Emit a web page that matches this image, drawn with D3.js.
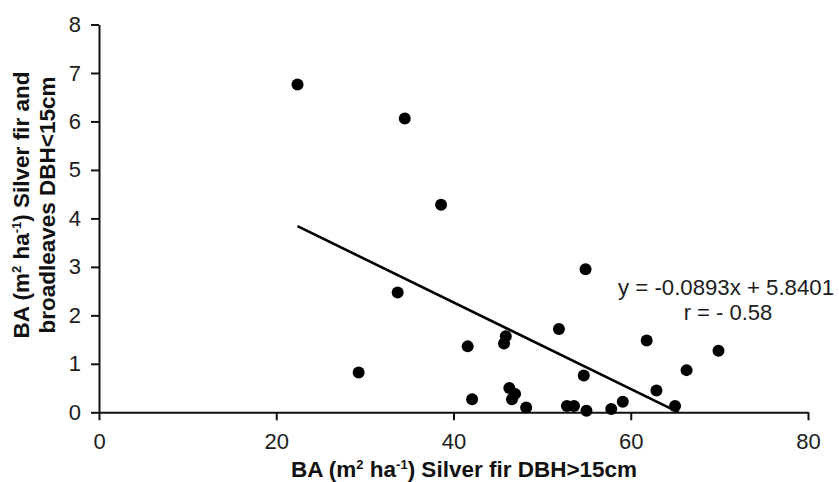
<!DOCTYPE html>
<html>
<head>
<meta charset="utf-8">
<script src="https://cdn.jsdelivr.net/npm/d3@7"></script>
<style>
  body { margin: 0; background: #fff; }
  text { font-family: "Liberation Sans", Arial, sans-serif; }
</style>
</head>
<body>
<div id="chart"></div>
<script>
// BA of silver fir DBH>15cm (x) vs BA of regeneration DBH<15cm (y)
var baLarge = [22.4, 34.5, 38.6, 33.7, 29.3, 54.9, 41.6, 45.9, 45.7, 51.9, 61.8, 69.9, 66.3,
               54.7, 62.9, 42.1, 46.3, 46.95, 46.6, 48.2, 52.8, 53.6, 55.0, 57.8, 59.1, 65.0];
var baSmall = [6.76, 6.06, 4.28, 2.47, 0.82, 2.95, 1.36, 1.57, 1.42, 1.72, 1.48, 1.27, 0.87,
               0.76, 0.45, 0.27, 0.50, 0.38, 0.27, 0.10, 0.13, 0.13, 0.03, 0.07, 0.22, 0.13];

var xTicks = [0, 20, 40, 60, 80];
var yTicks = [0, 1, 2, 3, 4, 5, 6, 7, 8];

// fitted line from the picture
var slope = -0.0893;
var intercept = 5.8401;
var eqLabel = "y = -0.0893x + 5.8401";
var rLabel = "r = - 0.58";

var width = 839;
var height = 482;

var margin = {
  top: 24.5,
  right: 31,
  bottom: 69.7,
  left: 99
};

var chartWidth = width - margin.left - margin.right;
var chartHeight = height - margin.top - margin.bottom;

var svg = d3.select("#chart")
    .append("svg")
    .attr("width", width)
    .attr("height", height);

var chartGroup = svg.append("g")
    .attr("transform", `translate(${margin.left}, ${margin.top})`);

var xScale = d3.scaleLinear()
    .domain([0, 80])
    .range([0, chartWidth]);

var yScale = d3.scaleLinear()
    .domain([0, 8])
    .range([chartHeight, 0]);

var bottomAxis = d3.axisBottom(xScale)
    .tickValues(xTicks)
    .tickSizeInner(8)
    .tickSizeOuter(0)
    .tickPadding(13);

var leftAxis = d3.axisLeft(yScale)
    .tickValues(yTicks)
    .tickSizeInner(8)
    .tickSizeOuter(0)
    .tickPadding(10);

var xAxis = chartGroup.append("g")
    .attr("transform", `translate(0, ${chartHeight})`)
    .call(bottomAxis);

var yAxis = chartGroup.append("g")
    .call(leftAxis);

[xAxis, yAxis].forEach(function(ax) {
    ax.select(".domain").attr("stroke", "#111").attr("stroke-width", 2);
    ax.selectAll(".tick line").attr("stroke", "#111").attr("stroke-width", 2);
    ax.selectAll(".tick text")
        .attr("fill", "#1c1c1c")
        .style("font-size", "22px")
        .style("font-family", '"Liberation Sans", Arial, sans-serif');
});

// regression line, from first x to where it meets y = 0
var xStart = d3.min(baLarge);
var xEnd = -intercept / slope;

chartGroup.append("line")
    .attr("x1", xScale(xStart))
    .attr("y1", yScale(slope * xStart + intercept))
    .attr("x2", xScale(xEnd))
    .attr("y2", yScale(slope * xEnd + intercept))
    .attr("stroke", "#000")
    .attr("stroke-width", 2.6);

var points = baLarge.map(function(d, i) { return { x: d, y: baSmall[i] }; });

chartGroup.selectAll("circle")
    .data(points)
    .enter()
    .append("circle")
    .attr("cx", d => xScale(d.x))
    .attr("cy", d => yScale(d.y))
    .attr("r", 6)
    .attr("fill", "#000");

// equation label
var eq = svg.append("g")
    .attr("fill", "#1c1c1c")
    .style("font-size", "22px")
    .attr("text-anchor", "middle");

eq.append("text")
    .attr("x", 726)
    .attr("y", 295)
    .attr("textLength", 216)
    .attr("lengthAdjust", "spacingAndGlyphs")
    .text(eqLabel);

eq.append("text")
    .attr("x", 728)
    .attr("y", 320)
    .text(rLabel);

// axis titles with superscripts
function unitTitle(sel, rest) {
    sel.append("tspan").text("BA (m");
    sel.append("tspan").attr("dy", -8).style("font-size", "13px").text("2");
    sel.append("tspan").attr("dy", 8).text(" ha");
    sel.append("tspan").attr("dy", -8).style("font-size", "13px").text("-1");
    sel.append("tspan").attr("dy", 8).text(rest);
}

var xTitle = svg.append("text")
    .attr("x", 464)
    .attr("y", 477)
    .attr("text-anchor", "middle")
    .style("font-size", "22.5px")
    .style("font-weight", "bold")
    .attr("fill", "#111");
unitTitle(xTitle, ") Silver fir DBH>15cm");

var yTitleGroup = svg.append("g")
    .attr("transform", "translate(0, 205) rotate(-90)");

var yTitle1 = yTitleGroup.append("text")
    .attr("x", 0)
    .attr("y", 28.5)
    .attr("text-anchor", "middle")
    .style("font-size", "22.5px")
    .style("font-weight", "bold")
    .attr("fill", "#111");
unitTitle(yTitle1, ") Silver fir and");

yTitleGroup.append("text")
    .attr("x", 0)
    .attr("y", 55)
    .attr("text-anchor", "middle")
    .style("font-size", "22.5px")
    .style("font-weight", "bold")
    .attr("fill", "#111")
    .text("broadleaves DBH<15cm");
</script>
</body>
</html>
